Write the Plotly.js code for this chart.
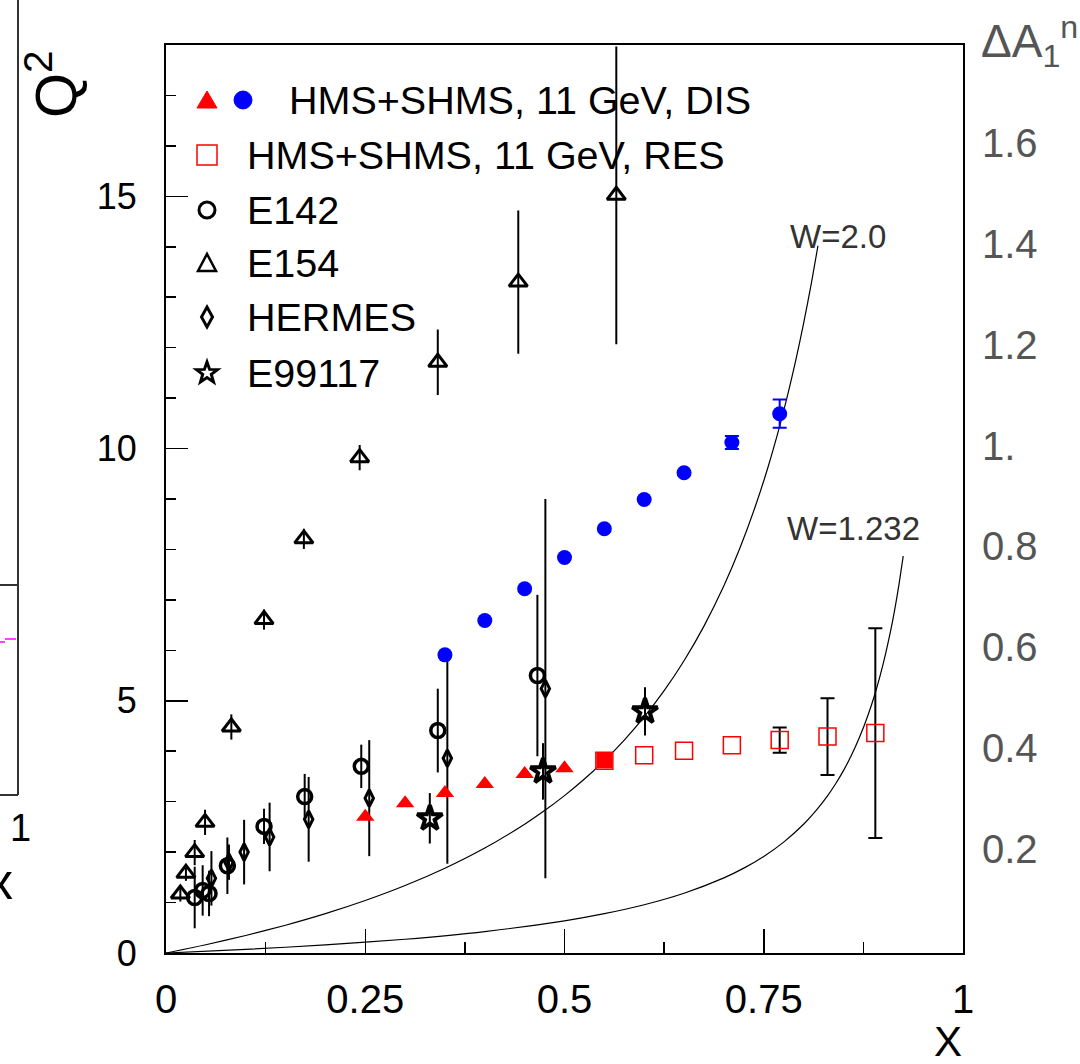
<!DOCTYPE html>
<html>
<head>
<meta charset="utf-8">
<script src="https://cdn.plot.ly/plotly-3.0.1.min.js"></script>
<style>html,body{margin:0;padding:0;background:#fff;}#chart{width:1080px;height:1064px;}</style>
</head>
<body>
<div id="chart"></div>
<script>
// ---- data ----
// HMS+SHMS 11 GeV DIS (red triangles)
var disTriX = [0.25, 0.30, 0.35, 0.40, 0.45, 0.50];
var disTriY = [2.70, 2.97, 3.17, 3.35, 3.55, 3.66];
var disSqX = [0.55];
var disSqY = [3.82];
// HMS+SHMS 11 GeV DIS (blue circles)
var disCircX = [0.35, 0.40, 0.45, 0.50, 0.55, 0.60, 0.65, 0.71, 0.77];
var disCircY = [5.91, 6.59, 7.22, 7.84, 8.41, 8.99, 9.52, 10.12, 10.69];
var disCircErr = [NaN, NaN, NaN, NaN, NaN, NaN, NaN, 0.13, 0.28];
// HMS+SHMS 11 GeV RES (red open squares)
var resX = [0.55, 0.60, 0.65, 0.71, 0.77, 0.83, 0.89];
var resY = [3.81, 3.92, 4.01, 4.12, 4.22, 4.29, 4.36];
var resErr = [NaN, NaN, NaN, NaN, 0.25, 0.76, 2.08];
// E142
var e142X = [0.036, 0.046, 0.054, 0.077, 0.123, 0.174, 0.245, 0.341, 0.466];
var e142Y = [1.10, 1.24, 1.18, 1.73, 2.51, 3.10, 3.70, 4.41, 5.50];
var e142Err = [0.61, 0.50, 0.45, 0.56, 0.35, 0.45, 0.43, 0.83, 1.60];
// E154
var e154X = [0.018, 0.025, 0.036, 0.049, 0.082, 0.123, 0.173, 0.243, 0.341, 0.442, 0.565];
var e154Y = [1.17, 1.58, 1.99, 2.59, 4.48, 6.61, 8.21, 9.82, 11.71, 13.30, 15.02];
var e154Err = [0.15, 0.15, 0.25, 0.25, 0.25, 0.20, 0.20, 0.25, 0.65, 1.42, 2.95];
// HERMES
var hermesX = [0.057, 0.079, 0.098, 0.130, 0.179, 0.255, 0.353, 0.476];
var hermesY = [1.48, 1.80, 2.00, 2.30, 2.65, 3.07, 3.86, 5.24];
var hermesErr = [0.54, 0.35, 0.64, 0.68, 0.84, 1.15, 2.09, 3.76];
// E99117
var e99X = [0.331, 0.473, 0.601];
var e99Y = [2.67, 3.60, 4.79];
var e99Err = [0.50, 0.56, 0.48];
// W = 2.0 line
var w20X = [0, 0.05, 0.10, 0.15, 0.20, 0.25, 0.30, 0.35, 0.40, 0.45, 0.475, 0.50, 0.525, 0.55, 0.575, 0.60, 0.625, 0.65, 0.675, 0.70, 0.72, 0.74, 0.755, 0.77, 0.78, 0.79, 0.80, 0.81, 0.818];
var w20Y = [0, 0.164, 0.347, 0.551, 0.78, 1.04, 1.337, 1.68, 2.08, 2.553, 2.823, 3.12, 3.448, 3.813, 4.221, 4.68, 5.20, 5.794, 6.48, 7.28, 8.023, 8.88, 9.615, 10.445, 11.062, 11.737, 12.48, 13.30, 14.02];
// W = 1.232 line
var w1232X = [0, 0.10, 0.20, 0.30, 0.40, 0.50, 0.55, 0.60, 0.65, 0.70, 0.725, 0.75, 0.775, 0.80, 0.815, 0.83, 0.84, 0.85, 0.86, 0.87, 0.88, 0.89, 0.90, 0.91, 0.915, 0.92, 0.925];
var w1232Y = [0, 0.071, 0.160, 0.273, 0.425, 0.638, 0.78, 0.957, 1.185, 1.489, 1.682, 1.914, 2.198, 2.552, 2.811, 3.115, 3.35, 3.615, 3.919, 4.27, 4.679, 5.16, 5.742, 6.45, 6.868, 7.337, 7.87];
// right axis ticks
var rightTickVals = [0.2, 0.4, 0.6, 0.8, 1.0, 1.2, 1.4, 1.6];
var rightTickText = ['0.2', '0.4', '0.6', '0.8', '1.', '1.2', '1.4', '1.6'];
// legend labels
var legendLabels = ['HMS+SHMS, 11 GeV, DIS', 'HMS+SHMS, 11 GeV, RES', 'E142', 'E154', 'HERMES', 'E99117'];

var BLK = '#000000';
function errs(arr, color, w) {
  return {type: 'data', array: arr, visible: true, color: color, thickness: 2, width: w};
}

var traces = [
  {x: w20X, y: w20Y, mode: 'lines', line: {color: BLK, width: 1.2, shape: 'spline', smoothing: 0.6}, showlegend: false},
  {x: w1232X, y: w1232Y, mode: 'lines', line: {color: BLK, width: 1.2, shape: 'spline', smoothing: 0.6}, showlegend: false},
  {x: e154X, y: e154Y, mode: 'markers', error_y: errs(e154Err, BLK, 0),
   marker: {symbol: 'triangle-up-open', size: 16, color: BLK, line: {width: 3, color: BLK}}, showlegend: false},
  {x: e142X, y: e142Y, mode: 'markers', error_y: errs(e142Err, BLK, 0),
   marker: {symbol: 'circle-open', size: 14, color: BLK, line: {width: 3.5, color: BLK}}, showlegend: false},
  {x: hermesX, y: hermesY, mode: 'markers', error_y: errs(hermesErr, BLK, 0),
   marker: {symbol: 'diamond-tall-open', size: 12, color: BLK, line: {width: 3, color: BLK}}, showlegend: false},
  {x: e99X, y: e99Y, mode: 'markers', error_y: errs(e99Err, BLK, 0),
   marker: {symbol: 'star-open', size: 19, color: BLK, line: {width: 4, color: BLK}}, showlegend: false},
  {x: disTriX, y: disTriY, mode: 'markers',
   marker: {symbol: 'triangle-up', size: 16, color: '#ff0000', line: {width: 0}}, showlegend: false},
  {x: disSqX, y: disSqY, mode: 'markers',
   marker: {symbol: 'square', size: 16, color: '#ff0000', line: {width: 0}}, showlegend: false},
  {x: resX, y: resY, mode: 'markers', error_y: errs(resErr, BLK, 7),
   marker: {symbol: 'square-open', size: 17, color: '#ff0000', line: {width: 1.5, color: '#ff0000'}}, showlegend: false},
  {x: disCircX, y: disCircY, mode: 'markers', error_y: errs(disCircErr, '#0000ff', 7),
   marker: {symbol: 'circle', size: 15, color: '#0000ff', line: {width: 0}}, showlegend: false},
  // invisible trace to activate the right-hand axis
  {x: [0], y: [0], yaxis: 'y2', mode: 'markers', marker: {opacity: 0}, showlegend: false, hoverinfo: 'skip'}
];

// plot area geometry: left 166, right 963, top 45, bottom 953
function px(p) { return (p - 166) / 797; }
function py(p) { return (953 - p) / 908; }

var rowsY = [100, 155, 210, 263, 317, 373];
var keyX = 207;

var annotations = [];
for (var i = 0; i < legendLabels.length; i++) {
  annotations.push({
    xref: 'paper', yref: 'paper', x: px(i === 0 ? 287 : 245), y: py(rowsY[i]),
    xanchor: 'left', yanchor: 'middle', showarrow: false, text: legendLabels[i],
    font: {family: 'Liberation Sans, Arial, sans-serif', size: 39.5, color: BLK}
  });
}
annotations.push(
  {xref: 'paper', yref: 'paper', x: px(788), y: py(236), xanchor: 'left', yanchor: 'middle', showarrow: false,
   text: 'W=2.0', font: {family: 'Liberation Sans, Arial, sans-serif', size: 33, color: '#333'}},
  {xref: 'paper', yref: 'paper', x: px(785), y: py(528), xanchor: 'left', yanchor: 'middle', showarrow: false,
   text: 'W=1.232', font: {family: 'Liberation Sans, Arial, sans-serif', size: 33, color: '#333'}},
  {xref: 'paper', yref: 'paper', x: px(52), y: py(84), xanchor: 'center', yanchor: 'middle', showarrow: false,
   text: 'Q<sup>2</sup>', textangle: -90, font: {family: 'Liberation Sans, Arial, sans-serif', size: 58, color: BLK}},
  {xref: 'paper', yref: 'paper', x: px(948), y: py(1041), xanchor: 'center', yanchor: 'middle', showarrow: false,
   text: 'X', font: {family: 'Liberation Sans Narrow, Liberation Sans, Arial, sans-serif', size: 42, color: BLK}},
  {xref: 'paper', yref: 'paper', x: px(979), y: py(42), xanchor: 'left', yanchor: 'middle', showarrow: false,
   text: 'ΔA<sub>1</sub><sup>n</sup>', font: {family: 'Liberation Sans, Arial, sans-serif', size: 46, color: '#555'}},
  {xref: 'paper', yref: 'paper', x: px(20), y: py(828), xanchor: 'center', yanchor: 'middle', showarrow: false,
   text: '1', font: {family: 'Liberation Sans Narrow, Liberation Sans, Arial, sans-serif', size: 38, color: BLK}},
  {xref: 'paper', yref: 'paper', x: px(0), y: py(882), xanchor: 'center', yanchor: 'middle', showarrow: false,
   text: 'x', font: {family: 'Liberation Sans, Arial, sans-serif', size: 50, color: BLK}}
);

function key(type, xp, yp, extra) {
  var s = {type: type, xref: 'paper', yref: 'paper', xsizemode: 'pixel', ysizemode: 'pixel',
           xanchor: px(xp), yanchor: py(yp), layer: 'above'};
  for (var k in extra) s[k] = extra[k];
  return s;
}
var starPath = 'M0,11L2.6,3.6L10.5,3.4L4.3,-1.4L6.5,-8.9L0,-4.5L-6.5,-8.9L-4.3,-1.4L-10.5,3.4L-2.6,3.6Z';
var shapes = [
  // legend keys
  key('path', keyX, rowsY[0], {path: 'M-10,-8L10,-8L0,9Z', fillcolor: '#ff0000', line: {color: '#ff0000', width: 1}}),
  key('circle', 243, rowsY[0], {x0: -9, x1: 9, y0: -9, y1: 9, fillcolor: '#0000ff', line: {color: '#0000ff', width: 1}}),
  key('rect', keyX, rowsY[1], {x0: -10, x1: 10, y0: -10, y1: 10, line: {color: '#ff0000', width: 1.5}}),
  key('circle', keyX, rowsY[2], {x0: -8, x1: 8, y0: -8, y1: 8, line: {color: BLK, width: 3}}),
  key('path', keyX, rowsY[3], {path: 'M-9,-8L9,-8L0,9Z', line: {color: BLK, width: 2.5}}),
  key('path', keyX, rowsY[4], {path: 'M0,10L5.5,0L0,-10L-5.5,0Z', line: {color: BLK, width: 3}}),
  key('path', keyX, rowsY[5], {path: starPath, line: {color: BLK, width: 3}}),
  // partial neighbouring panel on the left
  {type: 'line', xref: 'paper', yref: 'paper', x0: px(18), x1: px(18), y0: py(-5), y1: py(795), line: {color: '#333', width: 2}},
  {type: 'line', xref: 'paper', yref: 'paper', x0: px(-5), x1: px(18), y0: py(795), y1: py(795), line: {color: '#333', width: 2}},
  {type: 'line', xref: 'paper', yref: 'paper', x0: px(-5), x1: px(18), y0: py(585), y1: py(585), line: {color: '#333', width: 2}},
  {type: 'line', xref: 'paper', yref: 'paper', x0: px(-5), x1: px(5), y0: py(642), y1: py(642), line: {color: '#ff00ff', width: 1.5}},
  {type: 'line', xref: 'paper', yref: 'paper', x0: px(5), x1: px(16), y0: py(639), y1: py(639), line: {color: '#ff00ff', width: 1.5}}
];

var tickFont = {family: 'Liberation Sans, Arial, sans-serif', size: 36, color: BLK};

var layout = {
  width: 1080, height: 1064,
  margin: {l: 166, r: 117, t: 45, b: 111, pad: 0},
  paper_bgcolor: '#ffffff', plot_bgcolor: '#ffffff',
  showlegend: false,
  xaxis: {
    range: [0, 1], tickmode: 'linear', tick0: 0, dtick: 0.25,
    ticks: 'inside', ticklen: 24, tickwidth: 1.5, tickcolor: BLK,
    minor: {tickmode: 'linear', tick0: 0, dtick: 0.125, ticks: 'inside', ticklen: 11, tickwidth: 1.5, tickcolor: BLK},
    showline: true, linewidth: 2, linecolor: BLK, mirror: true,
    showgrid: false, zeroline: false,
    tickfont: {family: 'Liberation Sans Narrow, Liberation Sans, Arial, sans-serif', size: 40, color: BLK},
    ticklabelstandoff: 10
  },
  yaxis: {
    range: [0, 18], tickmode: 'linear', tick0: 0, dtick: 5,
    ticks: 'inside', ticklen: 22, tickwidth: 1.5, tickcolor: BLK,
    minor: {tickmode: 'linear', tick0: 0, dtick: 1, ticks: 'inside', ticklen: 10, tickwidth: 1.5, tickcolor: BLK},
    showline: true, linewidth: 2, linecolor: BLK, mirror: true,
    showgrid: false, zeroline: false,
    tickfont: tickFont, ticklabelstandoff: 20
  },
  yaxis2: {
    overlaying: 'y', side: 'right', range: [-0.006, 1.794],
    tickmode: 'array', tickvals: rightTickVals, ticktext: rightTickText,
    ticks: '', showline: false, showgrid: false, zeroline: false,
    tickfont: {family: 'Liberation Sans, Arial, sans-serif', size: 40, color: '#555'},
    ticklabelstandoff: 18
  },
  annotations: annotations,
  shapes: shapes
};

Plotly.newPlot('chart', traces, layout, {displayModeBar: false, staticPlot: true});
</script>
</body>
</html>
